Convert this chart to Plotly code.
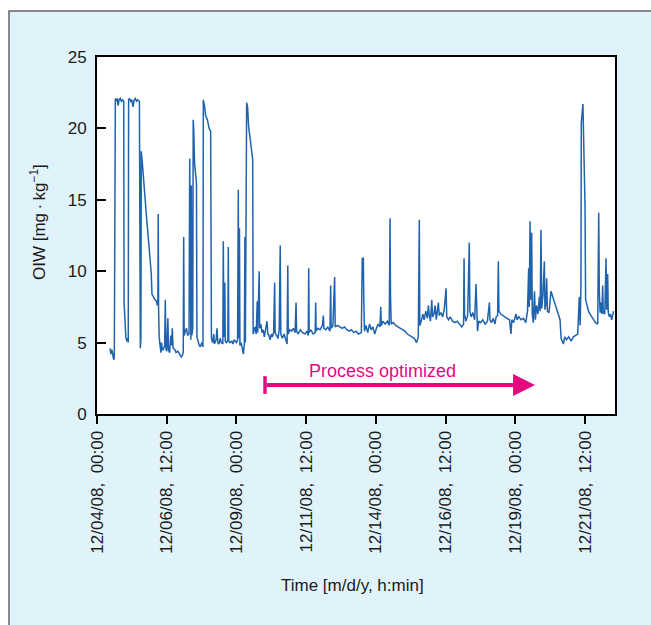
import pandas as pd
import plotly.graph_objects as go

# ---- data (hours since 2008-12-04 00:00, OIW mg/kg) ----
hours = [
    11.2, 12.0, 12.8, 13.6, 14.4, 14.9, 15.2, 15.8, 16.6, 17.4, 18.2, 19.0, 20.0, 21.0, 22.0, 23.0,
    23.3, 24.0, 24.8, 25.6, 26.4, 26.9, 27.2, 28.0, 29.0, 30.0, 31.0, 32.0, 33.0, 34.0, 35.0, 36.5,
    36.8, 37.3, 37.8, 38.1, 39.0, 39.9, 40.7, 42.8, 44.8, 46.7, 47.3, 48.5, 50.0, 51.2, 51.8, 52.4,
    52.7, 53.0, 53.5, 54.2, 55.0, 55.5, 56.2, 57.0, 58.2, 58.8, 59.3, 60.0, 61.0, 61.5, 62.5, 63.5,
    64.2, 64.8, 65.5, 67.0, 68.0, 69.5, 71.0, 72.5, 73.5, 74.2, 74.6, 75.0, 76.0, 77.0, 78.0, 79.2,
    79.8, 80.2, 80.8, 81.2, 81.6, 82.4, 82.8, 83.3, 84.0, 85.0, 85.6, 86.0, 87.0, 88.0, 89.0, 90.2,
    91.2, 91.5, 92.5, 93.5, 95.0, 96.5, 97.8, 98.1, 98.5, 99.5, 100.5, 101.0, 102.5, 103.3, 104.0, 105.0,
    106.0, 107.0, 108.3, 108.7, 109.2, 110.0, 110.4, 111.5, 112.6, 113.0, 113.4, 114.5, 116.0, 117.0, 118.0, 119.0,
    120.0, 121.0, 121.6, 122.0, 122.6, 123.0, 124.0, 125.0, 126.0, 126.8, 127.3, 127.7, 128.2, 128.8, 129.6, 130.5,
    131.8, 133.0, 134.0, 134.4, 135.0, 136.0, 137.0, 137.9, 138.3, 139.6, 140.0, 141.0, 142.0, 143.0, 144.0, 145.0,
    146.3, 147.0, 148.0, 149.0, 150.0, 151.0, 152.0, 152.9, 153.3, 154.5, 155.8, 156.8, 157.7, 158.2, 159.5, 161.0,
    162.5, 163.6, 164.2, 164.6, 166.0, 167.5, 169.0, 170.5, 171.3, 171.8, 173.0, 175.0, 177.0, 179.0, 180.5, 181.8,
    182.2, 182.6, 184.0, 186.0, 187.8, 188.2, 188.6, 190.0, 192.0, 194.0, 194.8, 195.3, 197.0, 198.5, 200.5, 201.1,
    201.5, 203.0, 204.5, 205.0, 207.0, 209.0, 211.0, 213.0, 215.0, 217.0, 219.0, 221.0, 223.0, 225.0, 227.5, 228.3,
    229.2, 229.6, 230.2, 231.5, 233.0, 234.5, 236.0, 237.5, 239.0, 240.5, 242.0, 243.5, 244.2, 244.7, 246.0, 248.0,
    250.0, 251.5, 252.2, 252.6, 253.2, 255.0, 257.0, 259.0, 261.0, 263.0, 265.0, 267.0, 269.0, 271.0, 273.0, 275.0,
    276.5, 277.4, 277.8, 279.0, 280.5, 281.5, 283.0, 284.3, 285.2, 286.0, 287.0, 288.1, 288.8, 290.0, 291.0, 292.0,
    293.8, 294.5, 296.0, 297.5, 298.8, 300.4, 301.0, 302.5, 304.0, 306.0, 308.0, 310.0, 312.0, 314.0, 315.5, 315.9,
    316.3, 317.5, 319.0, 320.4, 320.9, 322.0, 323.5, 325.0, 326.2, 326.7, 327.5, 328.5, 330.0, 332.0, 334.0, 336.0,
    337.7, 338.2, 339.5, 341.0, 342.5, 343.5, 344.8, 345.4, 345.9, 347.5, 349.0, 351.0, 353.0, 355.0, 356.3, 357.0,
    358.5, 360.6, 361.5, 363.0, 365.0, 367.0, 369.0, 370.5, 371.5, 372.0, 372.7, 373.3, 374.1, 374.6, 375.5, 376.5,
    377.3, 378.3, 379.5, 380.7, 381.4, 382.1, 382.7, 383.8, 385.0, 385.5, 386.4, 387.0, 387.6, 389.0, 390.7, 392.5,
    394.5, 396.5, 398.5, 399.4, 400.5, 401.4, 402.5, 404.0, 406.0, 408.0, 410.0, 412.0, 413.7, 415.1, 415.8, 416.5,
    416.8, 418.2, 419.1, 420.0, 420.5, 421.5, 423.0, 425.0, 427.0, 429.0, 430.9, 431.8, 432.3, 433.0, 433.8, 434.5,
    435.2, 435.7, 437.0, 438.1, 438.6, 439.5, 440.0, 441.0, 442.0, 443.0, 443.8, 444.5,
]
oiw = [
    4.6, 4.2, 4.5, 4.1, 3.8, 4.0, 22.0, 22.1, 21.9, 22.1, 21.6, 22.0, 22.1, 21.9, 22.0, 21.9,
    7.8, 6.4, 5.4, 5.1, 5.3, 5.0, 22.0, 22.1, 21.9, 22.0, 21.5, 22.0, 22.1, 21.9, 22.0, 21.9,
    5.8, 4.6, 5.3, 18.4, 17.6, 16.6, 15.5, 13.6, 11.7, 9.8, 8.4, 8.2, 8.0, 7.9, 7.6, 8.0,
    14.0, 7.4, 5.4, 4.6, 4.3, 5.0, 4.5, 4.5, 4.8, 8.0, 4.6, 4.4, 6.7, 4.5, 4.3, 5.5,
    4.8, 6.0, 4.6, 4.5, 4.3, 4.4, 4.2, 4.0, 4.1, 4.3, 12.4, 5.5, 5.8, 6.0, 5.5, 5.6,
    17.9, 5.5, 5.2, 16.0, 5.5, 6.0, 20.6, 19.8, 17.5, 16.6, 16.2, 5.4, 5.0, 4.8, 4.7, 5.0,
    4.7, 22.0, 21.6, 20.9, 20.6, 20.0, 19.8, 8.0, 5.3, 5.0, 5.6, 4.9, 5.2, 6.0, 5.0, 4.9,
    5.3, 5.0, 4.9, 12.1, 5.4, 9.2, 5.1, 5.0, 5.2, 11.7, 5.1, 5.0, 5.1, 4.9, 5.2, 5.1,
    5.0, 5.2, 15.7, 5.3, 13.0, 4.8, 5.0, 4.6, 4.2, 4.9, 12.4, 5.0, 19.0, 21.8, 21.5, 20.1,
    19.3, 18.6, 17.8, 5.6, 5.8, 6.1, 5.6, 7.9, 5.7, 10.0, 6.0, 6.3, 5.7, 5.9, 5.4, 5.8,
    6.5, 5.6, 5.5, 5.2, 5.6, 5.4, 5.7, 9.2, 5.7, 5.5, 5.3, 5.9, 11.8, 5.6, 5.3, 5.6,
    5.1, 4.9, 10.4, 5.6, 5.9, 5.8, 6.0, 5.7, 7.8, 5.8, 5.6, 5.9, 5.7, 5.6, 5.8, 5.5,
    10.2, 5.7, 5.9, 5.6, 5.7, 7.8, 5.8, 6.0, 5.9, 6.2, 6.9, 6.0, 5.9, 6.1, 5.8, 9.0,
    6.0, 6.2, 9.6, 6.1, 6.2, 6.1, 6.0, 6.1, 5.9, 5.8, 5.9, 5.7, 5.8, 5.6, 5.7, 10.9,
    10.9, 8.0, 5.8, 6.2, 5.7, 6.3, 5.9, 6.1, 5.6, 6.0, 6.3, 6.1, 7.5, 6.2, 6.5, 6.3,
    6.5, 6.2, 13.7, 8.3, 6.3, 6.4, 6.2, 6.1, 6.0, 5.9, 5.8, 5.6, 5.5, 5.4, 5.3, 5.0,
    5.4, 13.6, 6.2, 6.5, 7.0, 6.6, 7.2, 6.7, 7.6, 6.9, 6.5, 8.0, 6.8, 7.0, 7.6, 6.6,
    7.8, 6.9, 7.1, 6.8, 7.3, 8.8, 6.8, 6.6, 6.8, 6.5, 6.4, 6.5, 6.3, 6.1, 6.3, 10.9,
    7.0, 6.5, 6.9, 12.0, 7.2, 6.8, 7.1, 6.6, 9.1, 6.6, 5.8, 6.5, 6.4, 6.6, 6.3, 6.5,
    7.8, 6.6, 6.4, 6.7, 6.3, 6.8, 6.9, 10.7, 7.2, 7.0, 6.9, 6.8, 6.7, 6.6, 5.6, 6.6,
    6.4, 7.0, 6.6, 6.8, 6.6, 6.7, 6.4, 7.2, 10.2, 7.5, 13.5, 8.0, 12.7, 7.0, 6.4, 8.6,
    6.6, 7.6, 7.0, 8.2, 7.2, 12.9, 7.4, 8.3, 10.7, 7.3, 7.8, 9.5, 7.2, 7.1, 8.6, 8.1,
    7.6, 7.1, 6.6, 5.3, 5.1, 4.9, 5.4, 5.2, 5.4, 5.1, 5.4, 5.5, 5.6, 8.2, 6.2, 9.0,
    20.4, 21.7, 18.0, 14.6, 8.0, 7.6, 7.2, 6.9, 6.6, 6.4, 6.3, 14.1, 8.6, 7.1, 7.8, 7.0,
    9.0, 7.1, 7.0, 10.9, 7.3, 9.8, 7.1, 6.8, 7.0, 6.6, 6.9, 7.2,
]

tick_times = ["2008-12-04 00:00", "2008-12-06 12:00", "2008-12-09 00:00", "2008-12-11 12:00",
              "2008-12-14 00:00", "2008-12-16 12:00", "2008-12-19 00:00", "2008-12-21 12:00"]
tick_labels = ["12/04/08,\u00a0\u00a000:00", "12/06/08,\u00a0\u00a012:00",
               "12/09/08,\u00a0\u00a000:00", "12/11/08,\u00a0\u00a012:00",
               "12/14/08,\u00a0\u00a000:00", "12/16/08,\u00a0\u00a012:00",
               "12/19/08,\u00a0\u00a000:00", "12/21/08,\u00a0\u00a012:00"]
y_ticks = [0, 5, 10, 15, 20, 25]

x_range = ["2008-12-04 00:00", "2008-12-22 13:48"]
arrow_start = "2008-12-10 00:35"
arrow_end = "2008-12-19 17:00"
arrow_level = 2.03
label_time = "2008-12-14 06:00"
label_level = 3.0

start = pd.Timestamp("2008-12-04 00:00")
times = start + pd.to_timedelta(hours, unit="h")

FONT = "Liberation Sans, Arial, sans-serif"
MAGENTA = "#e5097f"

fig = go.Figure()
fig.add_trace(go.Scatter(x=times, y=oiw, mode="lines",
                         line=dict(color="#1f62ad", width=1.5), showlegend=False))

W, H = 651, 625
L, R, T, B = 97, 36, 57, 211
pw, ph = W - L - R, H - T - B

def px_x(p):
    return (p - L) / pw

def px_y(p):
    return (H - B - p) / ph

fig.update_layout(
    width=W, height=H,
    margin=dict(l=L, r=R, t=T, b=B, pad=0),
    paper_bgcolor="white", plot_bgcolor="white",
    font=dict(family=FONT, size=17, color="#1a1a1a"),
    shapes=[
        dict(type="rect", xref="paper", yref="paper", x0=px_x(9), x1=px_x(700),
             y0=px_y(700), y1=px_y(11), fillcolor="#e0f3fa",
             line=dict(color="#666666", width=1.5), layer="below"),
        dict(type="rect", xref="paper", yref="paper", x0=0, x1=1, y0=0, y1=1,
             fillcolor="white", line=dict(width=0), layer="below"),
        dict(type="line", xref="x", yref="y", x0=arrow_start, x1=arrow_start,
             y0=arrow_level - 0.62, y1=arrow_level + 0.62,
             line=dict(color=MAGENTA, width=3.5)),
    ],
    annotations=[
        dict(x=arrow_end, y=arrow_level, ax=arrow_start, ay=arrow_level,
             xref="x", yref="y", axref="x", ayref="y", text="",
             showarrow=True, arrowhead=2, arrowsize=1.1, arrowwidth=4, arrowcolor=MAGENTA),
        dict(x=label_time, y=label_level, xref="x", yref="y", text="Process optimized",
             showarrow=False, xanchor="center", yanchor="middle",
             font=dict(size=18, color=MAGENTA, family=FONT)),
        dict(x=px_x(38), y=px_y(222), xref="paper", yref="paper",
             text="OIW [mg\u2009·\u2009kg<sup>\u22121</sup>]", textangle=-90,
             xanchor="center", yanchor="middle",
             showarrow=False, font=dict(size=17, family=FONT, color="#1a1a1a")),
        dict(x=px_x(352), y=px_y(585), xref="paper", yref="paper",
             text="Time [m/d/y, h:min]", xanchor="center", yanchor="middle",
             showarrow=False, font=dict(size=17, family=FONT, color="#1a1a1a")),
    ],
)

fig.update_xaxes(type="date", range=x_range, tickvals=tick_times, ticktext=tick_labels,
                 tickangle=-90, ticks="outside", ticklen=8, tickwidth=1.5, tickcolor="black",
                 showline=True, linecolor="black", linewidth=2, mirror=True,
                 showgrid=False, zeroline=False, tickfont=dict(size=17))
fig.update_yaxes(range=[0, 25], tickvals=y_ticks, ticks="inside", ticklen=9, tickwidth=1.5,
                 tickcolor="black", showline=True, linecolor="black", linewidth=2, mirror=True,
                 showgrid=False, zeroline=False, tickfont=dict(size=17), ticklabelstandoff=5)

fig.write_html("out.html")
